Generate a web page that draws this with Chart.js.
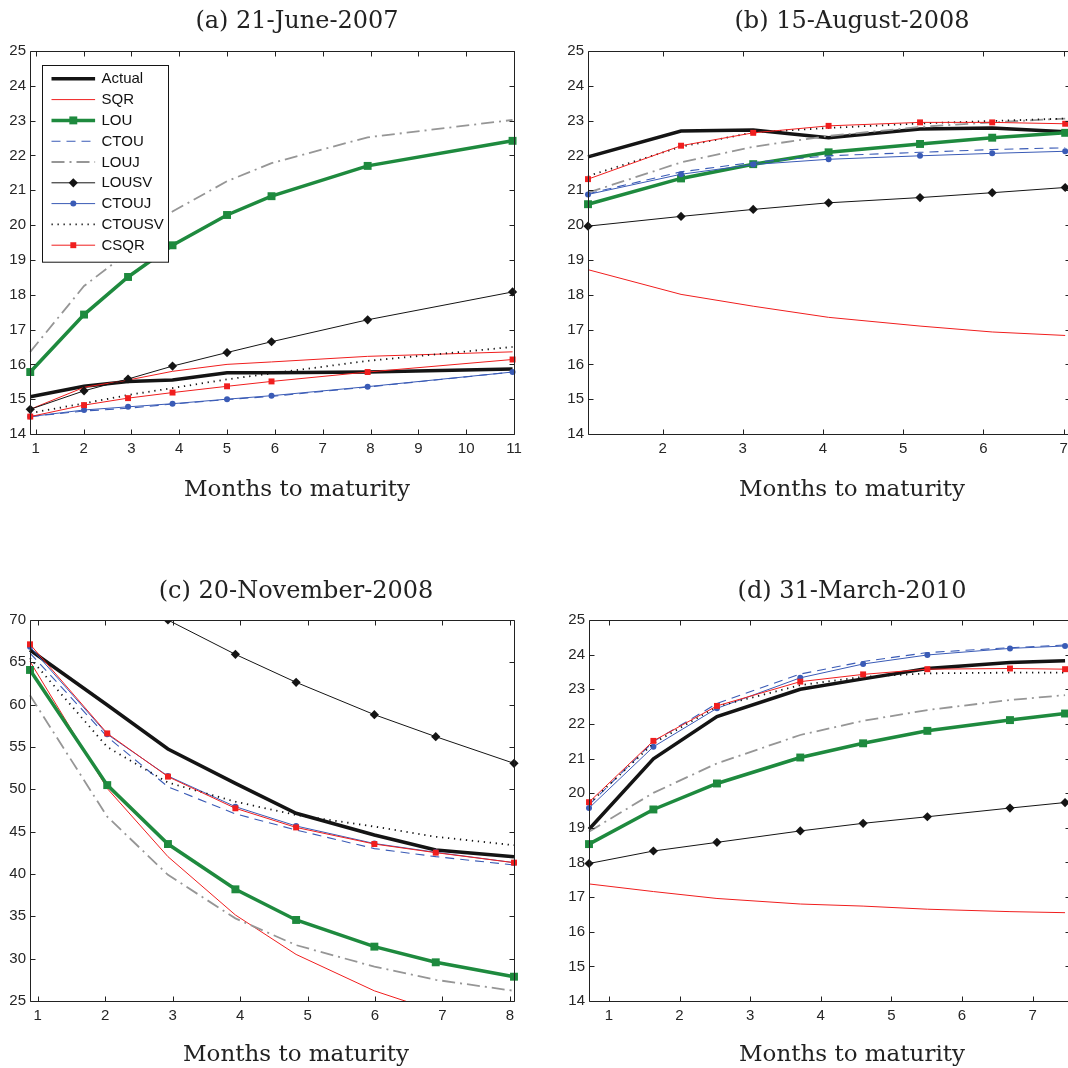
<!DOCTYPE html>
<html>
<head>
<meta charset="utf-8">
<script src="https://cdn.jsdelivr.net/npm/chart.js@4"></script>
<style>
  html, body { margin: 0; padding: 0; background: #fff; overflow: hidden; width: 1068px; height: 1068px; }
  canvas { position: absolute; }
</style>
</head>
<body>
<canvas id="chart-a" width="594" height="534" style="left:0;top:0"></canvas>
<canvas id="chart-b" width="636" height="534" style="left:534px;top:0"></canvas>
<canvas id="chart-c" width="592" height="540" style="left:0;top:534px"></canvas>
<canvas id="chart-d" width="636" height="540" style="left:534px;top:534px"></canvas>
<script>
// Series names, in plot (and legend) order
const seriesNames = ['Actual', 'SQR', 'LOU', 'CTOU', 'LOUJ', 'LOUSV', 'CTOUJ', 'CTOUSV', 'CSQR'];

// (a) 21-June-2007
const monthsA = [0.885, 2.01, 2.93, 3.86, 5.0, 5.93, 7.94, 10.97];
const actualA = [15.07, 15.37, 15.51, 15.55, 15.76, 15.76, 15.78, 15.87];
const sqrA    = [14.71, 15.34, 15.55, 15.80, 16.00, 16.07, 16.23, 16.36];
const louA    = [15.78, 17.43, 18.51, 19.42, 20.29, 20.83, 21.70, 22.42];
const ctouA   = [14.50, 14.66, 14.74, 14.86, 14.99, 15.08, 15.35, 15.78];
const loujA   = [16.36, 18.25, 19.22, 20.39, 21.26, 21.78, 22.52, 23.02];
const lousvA  = [14.71, 15.24, 15.58, 15.95, 16.34, 16.65, 17.28, 18.08];
const ctoujA  = [14.50, 14.69, 14.78, 14.87, 15.00, 15.10, 15.36, 15.78];
const ctousvA = [14.60, 14.88, 15.12, 15.32, 15.57, 15.74, 16.10, 16.50];
const csqrA   = [14.50, 14.83, 15.03, 15.19, 15.37, 15.51, 15.78, 16.14];

// (b) 15-August-2008
const monthsB = [1.07, 2.23, 3.13, 4.07, 5.21, 6.11, 7.02];
const actualB = [21.96, 22.70, 22.73, 22.51, 22.76, 22.79, 22.68];
const sqrB    = [18.72, 18.01, 17.67, 17.35, 17.10, 16.93, 16.83];
const louB    = [20.60, 21.34, 21.75, 22.09, 22.33, 22.51, 22.65];
const ctouB   = [20.90, 21.53, 21.80, 21.99, 22.09, 22.17, 22.22];
const loujB   = [20.93, 21.80, 22.25, 22.56, 22.82, 22.95, 23.06];
const lousvB  = [19.97, 20.25, 20.45, 20.64, 20.79, 20.93, 21.08];
const ctoujB  = [20.88, 21.46, 21.74, 21.89, 21.99, 22.06, 22.12];
const ctousvB = [21.41, 22.25, 22.66, 22.79, 22.92, 22.99, 23.06];
const csqrB   = [21.32, 22.28, 22.65, 22.85, 22.95, 22.95, 22.91];

// (c) 20-November-2008
const monthsC = [0.885, 2.03, 2.93, 3.93, 4.83, 5.99, 6.90, 8.06];
const actualC = [66.46, 59.96, 54.76, 50.70, 47.17, 44.60, 42.83, 42.05];
const sqrC    = [65.1, 50.1, 42.05, 35.16, 30.5, 26.2, 23.8, 21.0];
const louC    = [64.1, 50.5, 43.54, 38.19, 34.57, 31.42, 29.57, 27.87];
const ctouC   = [66.1, 56.2, 50.3, 47.1, 45.2, 43.0, 42.05, 41.06];
const loujC   = [61.1, 46.77, 39.9, 34.76, 31.6, 29.06, 27.5, 26.2];
const lousvC  = [80.5, 74.6, 70.0, 65.94, 62.64, 58.82, 56.22, 53.07];
const ctoujC  = [66.85, 56.5, 51.57, 47.95, 45.67, 43.6, 42.56, 41.34];
const ctousvC = [65.5, 55.0, 50.8, 48.54, 46.97, 45.6, 44.4, 43.4];
const csqrC   = [67.13, 56.61, 51.5, 47.76, 45.5, 43.54, 42.52, 41.34];

// (d) 31-March-2010
const monthsD = [0.718, 1.63, 2.53, 3.71, 4.60, 5.51, 6.68, 7.46];
const actualD = [18.96, 20.99, 22.21, 23.00, 23.30, 23.60, 23.77, 23.82];
const sqrD    = [17.38, 17.16, 16.96, 16.80, 16.74, 16.65, 16.58, 16.55];
const louD    = [18.53, 19.53, 20.28, 21.03, 21.44, 21.80, 22.11, 22.30];
const ctouD   = [19.66, 21.49, 22.59, 23.44, 23.80, 24.06, 24.20, 24.28];
const loujD   = [18.89, 20.01, 20.86, 21.68, 22.09, 22.40, 22.69, 22.83];
const lousvD  = [17.97, 18.33, 18.58, 18.91, 19.13, 19.32, 19.57, 19.73];
const ctoujD  = [19.57, 21.34, 22.45, 23.33, 23.73, 23.99, 24.18, 24.25];
const ctousvD = [19.70, 21.44, 22.50, 23.12, 23.36, 23.46, 23.48, 23.48];
const csqrD   = [19.74, 21.51, 22.52, 23.22, 23.43, 23.58, 23.60, 23.58];

// Tick labels
const xTicksA = [1, 2, 3, 4, 5, 6, 7, 8, 9, 10, 11];
const xTicksB = [2, 3, 4, 5, 6, 7];
const xTicksC = [1, 2, 3, 4, 5, 6, 7, 8];
const xTicksD = [1, 2, 3, 4, 5, 6, 7];
const yTicksPct = [14, 15, 16, 17, 18, 19, 20, 21, 22, 23, 24, 25];
const yTicksC = [25, 30, 35, 40, 45, 50, 55, 60, 65, 70];

// Line styles per model
const RED = '#f01e1e', GREEN = '#1e8a3e', BLUE = '#3a5bb6', INK = '#141414';
const styles = {
  Actual: { borderColor: INK, borderWidth: 3.5, pointRadius: 0 },
  SQR:    { borderColor: RED, borderWidth: 1, pointRadius: 0 },
  LOU:    { borderColor: GREEN, borderWidth: 3.5, pointStyle: 'rect', pointRadius: 5.6, pointBackgroundColor: GREEN, pointBorderColor: GREEN },
  CTOU:   { borderColor: BLUE, borderWidth: 1.1, borderDash: [9, 6], pointRadius: 0 },
  LOUJ:   { borderColor: '#969696', borderWidth: 1.8, borderDash: [13, 5, 2, 5], pointRadius: 0 },
  LOUSV:  { borderColor: INK, borderWidth: 1, pointStyle: 'rectRot', pointRadius: 4.6, pointBackgroundColor: INK, pointBorderColor: INK },
  CTOUJ:  { borderColor: BLUE, borderWidth: 1, pointStyle: 'circle', pointRadius: 3, pointBackgroundColor: BLUE, pointBorderColor: BLUE },
  CTOUSV: { borderColor: INK, borderWidth: 1.8, borderDash: [1.3, 4.7], pointRadius: 0 },
  CSQR:   { borderColor: RED, borderWidth: 1, pointStyle: 'rect', pointRadius: 4.2, pointBackgroundColor: RED, pointBorderColor: RED }
};

// small marker drawer for the legend
function drawMarker(ctx, style, r, x, y) {
  ctx.beginPath();
  if (style === 'rect') {
    const s = r * Math.SQRT1_2;
    ctx.rect(x - s, y - s, 2 * s, 2 * s);
  } else if (style === 'rectRot') {
    ctx.moveTo(x, y - r); ctx.lineTo(x + r, y); ctx.lineTo(x, y + r); ctx.lineTo(x - r, y); ctx.closePath();
  } else {
    ctx.arc(x, y, r, 0, Math.PI * 2);
  }
  ctx.fill();
}

// boxed legend inside the axes (MATLAB style)
const boxLegend = {
  id: 'boxLegend',
  afterDraw(chart, args, opts) {
    if (!opts.display) return;
    const { ctx, chartArea } = chart;
    const x0 = Math.round(chartArea.left + 12) + 0.5, y0 = Math.round(chartArea.top + 14) + 0.5;
    const rowH = 20.8, w = 126, h = 13.3 + (chart.data.datasets.length - 1) * rowH + 17;
    ctx.save();
    ctx.fillStyle = '#fff';
    ctx.fillRect(x0, y0, w, h);
    ctx.strokeStyle = INK;
    ctx.lineWidth = 1;
    ctx.strokeRect(x0, y0, w, h);
    chart.data.datasets.forEach((ds, i) => {
      const y = y0 + 13.3 + i * rowH;
      ctx.strokeStyle = ds.borderColor;
      ctx.lineWidth = ds.borderWidth;
      ctx.setLineDash(ds.borderDash || []);
      ctx.beginPath(); ctx.moveTo(x0 + 9, y); ctx.lineTo(x0 + 52.6, y); ctx.stroke();
      ctx.setLineDash([]);
      if (ds.pointRadius > 0) {
        ctx.fillStyle = ds.pointBackgroundColor;
        drawMarker(ctx, ds.pointStyle, ds.pointRadius, x0 + 30.8, y);
      }
      ctx.fillStyle = '#111';
      ctx.font = '15px "Liberation Sans", Arial, sans-serif';
      ctx.textBaseline = 'middle';
      ctx.textAlign = 'left';
      ctx.fillText(ds.label, x0 + 59, y + 0.5);
    });
    ctx.restore();
  }
};

// axes box with inward tick marks on all four sides
const frameTicks = {
  id: 'frameTicks',
  afterDraw(chart) {
    const { ctx, chartArea: a, scales: { x, y } } = chart;
    const L = Math.round(a.left) + 0.5, R = Math.round(a.right) + 0.5;
    const T = Math.round(a.top) + 0.5, B = Math.round(a.bottom) + 0.5;
    ctx.save();
    ctx.strokeStyle = '#222';
    ctx.lineWidth = 1;
    ctx.beginPath();
    ctx.rect(L, T, R - L, B - T);
    x.ticks.forEach(t => {
      const px = Math.round(x.getPixelForValue(t.value)) + 0.5;
      ctx.moveTo(px, B); ctx.lineTo(px, B - 5);
      ctx.moveTo(px, T); ctx.lineTo(px, T + 5);
    });
    y.ticks.forEach(t => {
      const py = Math.round(y.getPixelForValue(t.value)) + 0.5;
      ctx.moveTo(L, py); ctx.lineTo(L + 5, py);
      ctx.moveTo(R, py); ctx.lineTo(R - 5, py);
    });
    ctx.stroke();
    ctx.restore();
  }
};

const titleFont = { family: '"DejaVu Serif", "Liberation Serif", serif', size: 24, weight: 'normal' };
const labelFont = { family: '"DejaVu Serif", "Liberation Serif", serif', size: 23, weight: 'normal' };
const tickFont = { family: '"Liberation Sans", Arial, sans-serif', size: 15 };

function makePanel(id, cfg) {
  const datasets = seriesNames.map((name, i) => Object.assign({
    label: name,
    data: cfg.months.map((m, k) => ({ x: m, y: cfg.values[i][k] })),
    tension: 0,
    fill: false,
    pointBorderWidth: 0,
    pointHoverRadius: 0,
    clip: { left: 8, right: 8, top: 0, bottom: 0 },
    order: seriesNames.length - i
  }, styles[name]));

  return new Chart(document.getElementById(id), {
    type: 'line',
    data: { datasets },
    options: {
      responsive: false,
      animation: false,
      events: [],
      layout: { padding: 0 },
      scales: {
        x: {
          type: 'linear',
          min: cfg.xMin, max: cfg.xMax,
          afterBuildTicks: s => { s.ticks = cfg.xTicks.map(v => ({ value: v })); },
          afterFit: s => { s.height = 30; },
          grid: { display: false, drawTicks: false },
          border: { display: false },
          ticks: { font: tickFont, color: '#262626', padding: 6, maxRotation: 0, autoSkip: false }
        },
        y: {
          type: 'linear',
          min: cfg.yMin, max: cfg.yMax,
          afterBuildTicks: s => { s.ticks = cfg.yTicks.map(v => ({ value: v })); },
          afterFit: s => { s.width = cfg.left; },
          grid: { display: false, drawTicks: false },
          border: { display: false },
          ticks: { font: tickFont, color: '#262626', padding: 4, autoSkip: false }
        },
        // empty spacer so the title can stay centred on the whole canvas
        spacer: {
          type: 'linear', position: 'right', display: true,
          afterFit: s => { s.width = cfg.right; },
          grid: { display: false, drawTicks: false },
          border: { display: false },
          ticks: { display: false }
        }
      },
      plugins: {
        legend: { display: false },
        tooltip: { enabled: false },
        title: {
          display: true, text: cfg.title, font: titleFont, color: '#222',
          padding: { top: cfg.titlePad[0], bottom: cfg.titlePad[1] }
        },
        subtitle: {
          display: true, position: 'bottom', text: 'Months to maturity', font: labelFont, color: '#222',
          padding: { top: cfg.labelPad[0], bottom: cfg.labelPad[1] }
        },
        boxLegend: { display: !!cfg.legend }
      }
    },
    plugins: [frameTicks, boxLegend]
  });
}

document.addEventListener('DOMContentLoaded', function () {
  makePanel('chart-a', {
    title: '(a) 21-June-2007', months: monthsA,
    values: [actualA, sqrA, louA, ctouA, loujA, lousvA, ctoujA, ctousvA, csqrA],
    xMin: 0.88, xMax: 11, yMin: 14, yMax: 25, xTicks: xTicksA, yTicks: yTicksPct,
    left: 30, right: 80, titlePad: [7.6, 14.6], labelPad: [12.2, 30.2], legend: true
  });
  makePanel('chart-b', {
    title: '(b) 15-August-2008', months: monthsB,
    values: [actualB, sqrB, louB, ctouB, loujB, lousvB, ctoujB, ctousvB, csqrB],
    xMin: 1.07, xMax: 7.08, yMin: 14, yMax: 25, xTicks: xTicksB, yTicks: yTicksPct,
    left: 54, right: 100, titlePad: [7.6, 14.6], labelPad: [12.2, 30.2]
  });
  makePanel('chart-c', {
    title: '(c) 20-November-2008', months: monthsC,
    values: [actualC, sqrC, louC, ctouC, loujC, lousvC, ctoujC, ctousvC, csqrC],
    xMin: 0.885, xMax: 8.06, yMin: 25, yMax: 70, xTicks: xTicksC, yTicks: yTicksC,
    left: 30, right: 78, titlePad: [43.6, 13.6], labelPad: [10.2, 5.2]
  });
  makePanel('chart-d', {
    title: '(d) 31-March-2010', months: monthsD,
    values: [actualD, sqrD, louD, ctouD, loujD, lousvD, ctoujD, ctousvD, csqrD],
    xMin: 0.718, xMax: 7.53, yMin: 14, yMax: 25, xTicks: xTicksD, yTicks: yTicksPct,
    left: 55, right: 100, titlePad: [43.6, 13.6], labelPad: [10.2, 5.2]
  });
});
</script>
</body>
</html>
